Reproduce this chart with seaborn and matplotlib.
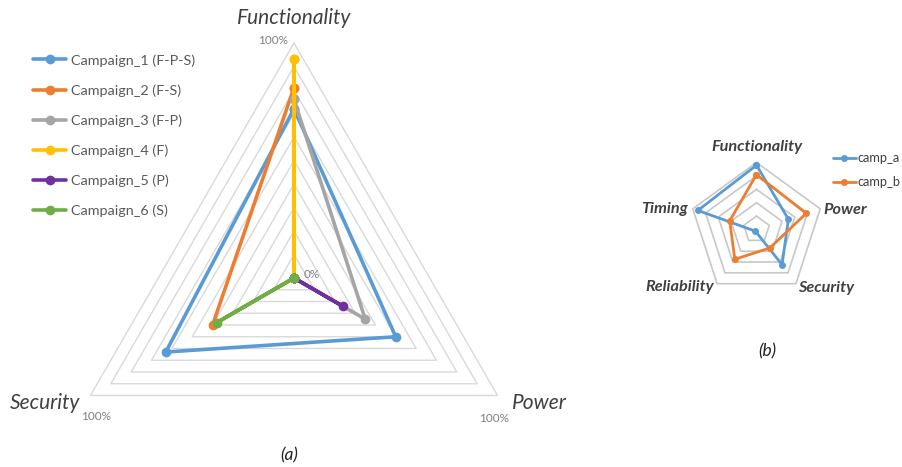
import matplotlib
matplotlib.use("Agg")
import matplotlib.pyplot as plt
from matplotlib.lines import Line2D
import numpy as np
import pandas as pd
import seaborn as sns

# panel (a): three-axis radar, values as fraction of 100%
axes_a = ["Functionality", "Power", "Security"]
campaigns = ["Campaign_1 (F-P-S)", "Campaign_2 (F-S)", "Campaign_3 (F-P)",
             "Campaign_4 (F)", "Campaign_5 (P)", "Campaign_6 (S)"]
camp_1 = [0.72, 0.50, 0.63]
camp_2 = [0.81, 0.00, 0.40]
camp_3 = [0.76, 0.35, 0.00]
camp_4 = [0.93, 0.00, 0.00]
camp_5 = [0.00, 0.24, 0.00]
camp_6 = [0.00, 0.00, 0.38]
colors_a = ["#5B9BD5", "#ED7D31", "#A5A5A5", "#FFC000", "#7030A0", "#70AD47"]

# panel (b): five-axis radar
axes_b = ["Functionality", "Power", "Security", "Reliability", "Timing"]
camp_a = [0.96, 0.50, 0.65, 0.03, 0.92]
camp_b = [0.82, 0.78, 0.34, 0.55, 0.42]
names_b = ["camp_a", "camp_b"]
colors_b = ["#5B9BD5", "#ED7D31"]

W, H = 903, 467
sns.set_theme(style="white")
plt.rcParams["font.family"] = ["Lato", "DejaVu Sans"]

fig = plt.figure(figsize=(W / 100, H / 100), dpi=100)


def px(x, y):
    return x / W, 1 - y / H


def radar_axes(cx, cy, r, rmax):
    R = r * rmax
    ax = fig.add_axes([(cx - R) / W, 1 - (cy + R) / H, 2 * R / W, 2 * R / H],
                      projection="polar")
    ax.set_theta_offset(np.pi / 2)
    ax.set_theta_direction(-1)
    ax.set_ylim(0, rmax)
    ax.grid(False)
    ax.set_xticks([])
    ax.set_yticks([])
    ax.spines["polar"].set_visible(False)
    ax.patch.set_alpha(0)
    return ax


def closed(vals):
    n = len(vals)
    theta = np.linspace(0, 2 * np.pi, n, endpoint=False)
    return np.append(theta, 2 * np.pi), np.append(vals, vals[0])


# ---------- panel (a)
ax1 = radar_axes(294, 278, 235, 1.02)
for lv in np.arange(0.1, 1.01, 0.1):
    t, r = closed([lv] * 3)
    ax1.plot(t, r, color="#D9D9D9", lw=1, zorder=1, clip_on=False)

series_a = [camp_1, camp_2, camp_3, camp_4, camp_5, camp_6]
for name, vals, c in zip(campaigns, series_a, colors_a):
    t, r = closed(vals)
    df = pd.DataFrame({"theta": t, "r": r})
    sns.lineplot(data=df, x="theta", y="r", ax=ax1, sort=False, estimator=None,
                 color=c, lw=2.6, marker="o", markersize=7, mew=0,
                 zorder=3, clip_on=False)
ax1.set_xlabel("")
ax1.set_ylabel("")

handles = [Line2D([], [], color=c, lw=2.6, marker="o", markersize=7, mew=0)
           for c in colors_a]
leg = fig.legend(handles, campaigns, loc="upper left",
                 bbox_to_anchor=px(33, 54), frameon=False, fontsize=10.4,
                 handlelength=2.3, handletextpad=0.3, labelspacing=1.22,
                 borderpad=0, borderaxespad=0)
for txt in leg.get_texts():
    txt.set_color("#595959")

lab_a = dict(fontsize=15, style="italic", color="#404040",
             ha="center", va="center")
fig.text(*px(294, 18), "Functionality", **lab_a)
fig.text(*px(539, 403), "Power", **lab_a)
fig.text(*px(45, 403), "Security", **lab_a)

pct = dict(fontsize=8.5, color="#808080", ha="center", va="center")
fig.text(*px(273, 41), "100%", **pct)
fig.text(*px(312, 274), "0%", **pct)
fig.text(*px(96, 417), "100%", **pct)
fig.text(*px(494, 418), "100%", **pct)

fig.text(*px(289, 455), "(a)", fontsize=12.5, style="italic", color="#222222",
         ha="center", va="center")

# ---------- panel (b)
ax2 = radar_axes(756.5, 229.5, 67, 1.05)
for lv in np.arange(0.2, 1.01, 0.2):
    t, r = closed([lv] * 5)
    ax2.plot(t, r, color="#C8C8C8", lw=1.2, zorder=1, clip_on=False)

for name, vals, c in zip(names_b, [camp_a, camp_b], colors_b):
    t, r = closed(vals)
    df = pd.DataFrame({"theta": t, "r": r})
    sns.lineplot(data=df, x="theta", y="r", ax=ax2, sort=False, estimator=None,
                 color=c, lw=2, marker="o", markersize=5, mew=0,
                 zorder=3, clip_on=False)
ax2.set_xlabel("")
ax2.set_ylabel("")

handles_b = [Line2D([], [], color=c, lw=2, marker="o", markersize=5, mew=0)
             for c in colors_b]
leg_b = fig.legend(handles_b, names_b, loc="upper left",
                   bbox_to_anchor=px(833, 152), frameon=False, fontsize=9.2,
                   handlelength=1.8, handletextpad=0.1, labelspacing=0.95,
                   borderpad=0, borderaxespad=0)
for txt in leg_b.get_texts():
    txt.set_color("#404040")

lab_b = dict(fontsize=11.7, style="italic", weight="bold", color="#404040",
             ha="center", va="center")
fig.text(*px(757, 147), "Functionality", **lab_b)
fig.text(*px(845, 210), "Power", **lab_b)
fig.text(*px(826, 288), "Security", **lab_b)
fig.text(*px(680, 287), "Reliability", **lab_b)
fig.text(*px(665, 209), "Timing", **lab_b)

fig.text(*px(767, 351), "(b)", fontsize=12.5, style="italic", color="#222222",
         ha="center", va="center")

fig.savefig("out.png", dpi=100)
